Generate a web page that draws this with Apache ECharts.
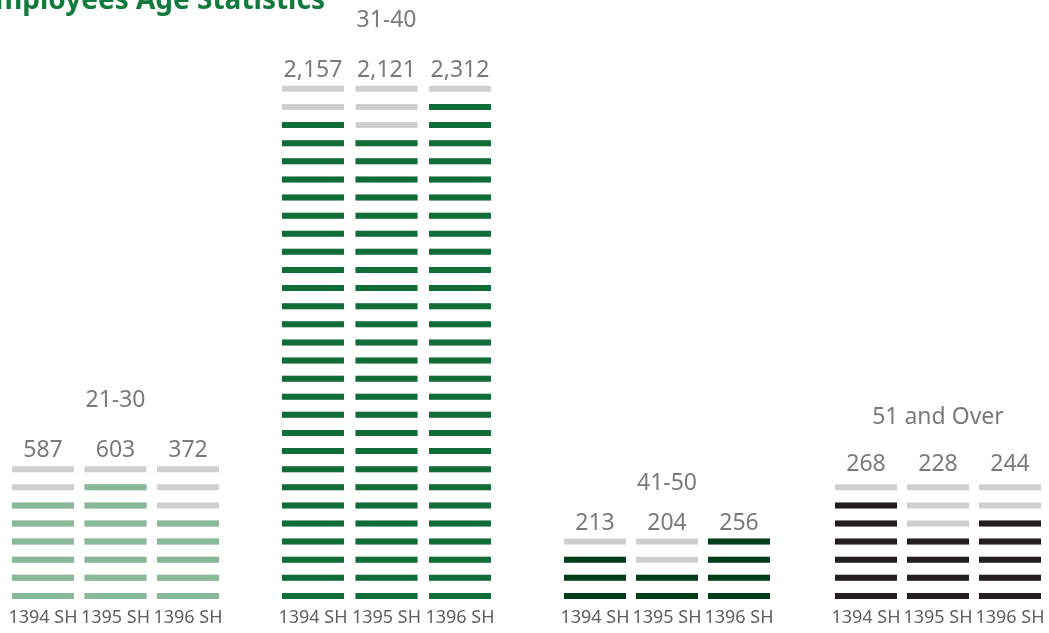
<!DOCTYPE html>
<html>
<head>
<meta charset="utf-8">
<script src="https://cdn.jsdelivr.net/npm/echarts@6/dist/echarts.min.js"></script>
<style>
html,body{margin:0;padding:0;background:#fff;}
#c{width:1049px;height:633px;}
</style>
</head>
<body>
<div id="c"></div>
<script>
// ---- data ----
const groups = ['21-30', '31-40', '41-50', '51 and Over'];
const years = ['1394 SH', '1395 SH', '1396 SH'];
const values2130 = [587, 603, 372];
const values3140 = [2157, 2121, 2312];
const values4150 = [213, 204, 256];
const values51 = [268, 228, 244];
// number of dashes shown (filled) per column, and dash slots per group
const dashes2130 = [6, 7, 5];
const dashes3140 = [27, 26, 28];
const dashes4150 = [3, 2, 4];
const dashes51 = [6, 4, 5];
const dashSlots = [8, 29, 4, 7];

const allValues = [values2130, values3140, values4150, values51];
const allDashes = [dashes2130, dashes3140, dashes4150, dashes51];

// ---- styling ----
const colors = ['#88b998', '#116d38', '#003f19', '#231f20'];
const grey = '#cfcfd0';
const textColor = '#59595b';
const gridLefts = [6.75, 276.25, 559, 830];
const gridWidths = [217.5, 220.5, 216, 216];
const groupLH = [76, 76, 57, 72];
const labelDist = [-2, -2.3, -2.6, 1.6];
const AXIS_MAX = 30;
const FONT = '"Noto Sans", "Open Sans", sans-serif';

const grids = [], xAxes = [], yAxes = [], series = [];
groups.forEach(function (g, gi) {
  grids.push({left: gridLefts[gi], width: gridWidths[gi], bottom: 28, height: 543.3});
  xAxes.push({
    type: 'category', gridIndex: gi, data: years,
    axisLine: {show: false}, axisTick: {show: false},
    axisLabel: {interval: 0, margin: 4, fontFamily: FONT, fontSize: 18, color: '#5f5f61'}
  });
  yAxes.push({type: 'value', gridIndex: gi, min: 0, max: AXIS_MAX, show: false, splitLine: {show: false}});
  const total = dashSlots[gi];
  // grey slots
  series.push({
    type: 'pictorialBar', xAxisIndex: gi, yAxisIndex: gi, z: 1,
    symbol: 'rect', symbolSize: [62, 6], symbolMargin: '6.1!', symbolRepeat: true,
    itemStyle: {color: grey},
    data: years.map(function () { return total; }),
    animation: false, silent: true
  });
  // filled dashes
  series.push({
    type: 'pictorialBar', xAxisIndex: gi, yAxisIndex: gi, z: 2,
    symbol: 'rect', symbolSize: [62, 6], symbolMargin: '6.1!', symbolRepeat: true,
    itemStyle: {color: colors[gi]},
    data: allDashes[gi],
    animation: false, silent: true
  });
  // value labels (+ group name above middle column)
  series.push({
    type: 'scatter', xAxisIndex: gi, yAxisIndex: gi, z: 3,
    symbolSize: 1, itemStyle: {color: 'rgba(0,0,0,0)'},
    label: {
      show: true, position: 'top', distance: labelDist[gi],
      fontFamily: FONT, fontSize: 23, color: textColor,
      formatter: function (p) {
        const v = allValues[gi][p.dataIndex].toLocaleString('en-US');
        return p.dataIndex === 1 ? '{g|' + groups[gi] + '}\n{v|' + v + '}' : '{v|' + v + '}';
      },
      rich: {
        g: {fontFamily: FONT, fontSize: 23, color: textColor, lineHeight: groupLH[gi]},
        v: {fontFamily: FONT, fontSize: 23, color: textColor, lineHeight: 23}
      }
    },
    data: years.map(function () { return total; }),
    animation: false, silent: true
  });
});

const chart = echarts.init(document.getElementById('c'), null, {renderer: 'canvas'});
chart.setOption({
  backgroundColor: '#ffffff',
  animation: false,
  title: {
    text: 'Employees Age Statistics', right: 724, top: -12.5, padding: 0,
    textStyle: {fontFamily: FONT, fontWeight: 'bold', fontSize: 28, color: '#127a3c'}
  },
  grid: grids, xAxis: xAxes, yAxis: yAxes, series: series
});
</script>
</body>
</html>
